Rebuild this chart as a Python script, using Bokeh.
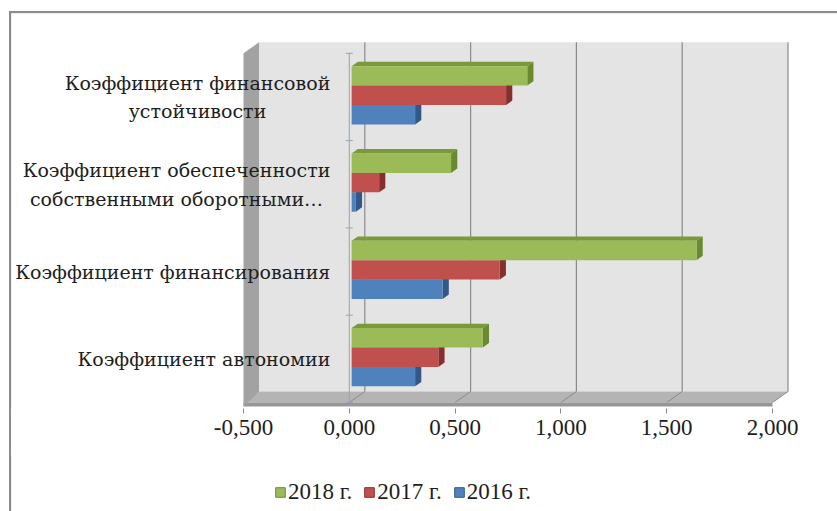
from bokeh.plotting import figure
from bokeh.layouts import column
from bokeh.models import (Range1d, FixedTicker, CustomJSTickFormatter, Legend,
                          LegendItem, BoxAnnotation, InlineStyleSheet)
from bokeh.core.properties import value
from bokeh.embed import file_html
from bokeh.resources import INLINE

# ---------------- data ----------------
categories = [
    "Коэффициент автономии",
    "Коэффициент финансирования",
    "Коэффициент обеспеченности\nсобственными оборотными…",
    "Коэффициент финансовой\nустойчивости",
]
series_names = ["2016 г.", "2017 г.", "2018 г."]
values_2016 = [0.30, 0.43, 0.02, 0.30]
values_2017 = [0.41, 0.70, 0.13, 0.73]
values_2018 = [0.62, 1.63, 0.47, 0.83]
x_ticks = [-0.5, 0.0, 0.5, 1.0, 1.5, 2.0]

series_values = [values_2016, values_2017, values_2018]
front_colors = ["#4F81BD", "#C0504D", "#9BBB59"]
top_colors = ["#3B659A", "#963A37", "#789A3B"]
side_colors = ["#325887", "#86302D", "#6A8A31"]

# ---------------- layout / style constants ----------------
W, H = 837, 511
TOP_H = 455
LEG_H = H - TOP_H
PX_PER_X = 211.6
PX_PER_Y = 87.3
X_LEFT_PX = 243          # pixel of the first tick on the front plane
Y0_PX = 402              # pixel of the floor front edge
FRAME_BOTTOM_PX = 408

x_start = x_ticks[0] - X_LEFT_PX / PX_PER_X
x_end = x_start + W / PX_PER_X
y_end = Y0_PX / PX_PER_Y
y_start = -(FRAME_BOTTOM_PX - Y0_PX) / PX_PER_Y

DX = 15.5 / PX_PER_X      # 3D depth offset (x)
DY = 11.0 / PX_PER_Y      # 3D depth offset (y)
BAR_H = 1 / 4.5
F0, F1 = 0.15, 0.55       # bar depth placement
NCAT = len(categories)
XMIN, XMAX = x_ticks[0], x_ticks[-1]
BORDER = "#8c8c8c"
TEXT = "#1e1e1e"
SERIF = "Liberation Serif"
CYR_SERIF = "DejaVu Serif"
MIXED_SERIF = "'Liberation Serif', 'DejaVu Serif'"

p = figure(width=W, height=TOP_H, x_range=Range1d(x_start, x_end),
           y_range=Range1d(y_start, y_end), output_backend="svg",
           toolbar_location=None, min_border_left=0, min_border_right=0,
           min_border_top=0, min_border_bottom=TOP_H - FRAME_BOTTOM_PX,
           y_axis_location=None, outline_line_color=None,
           background_fill_color="white", border_fill_color="white")
p.grid.visible = False

# ---------------- walls and floor ----------------
p.quad(left=[XMIN + DX], right=[XMAX + DX], bottom=[DY], top=[NCAT + DY],
       fill_color="#e4e4e4", line_color=None)
p.patch(x=[XMIN, XMAX, XMAX + DX, XMIN + DX], y=[0, 0, DY, DY],
        fill_color="#b4b4b4", line_color=None)
p.quad(left=[XMIN], right=[XMAX], bottom=[-0.045], top=[0],
       fill_color="#979797", line_color=None)
p.patch(x=[XMIN, XMIN + DX, XMIN + DX, XMIN], y=[-0.045, DY, NCAT + DY, NCAT],
        fill_color="#a2a2a2", line_color=None)

grid_ticks = [t for t in x_ticks if t > XMIN]
p.segment(x0=[t + DX for t in grid_ticks], y0=[DY] * len(grid_ticks),
          x1=[t + DX for t in grid_ticks], y1=[NCAT + DY] * len(grid_ticks),
          line_color="#8a8a8a", line_width=1.2)
p.segment(x0=grid_ticks, y0=[0] * len(grid_ticks),
          x1=[t + DX for t in grid_ticks], y1=[DY] * len(grid_ticks),
          line_color="#8a8a8a", line_width=1)

# category axis line on the front plane
p.segment(x0=[0], y0=[0], x1=[0], y1=[NCAT], line_color="#98a3b5", line_width=1)
p.scatter(x=[0] * (NCAT + 1), y=list(range(NCAT + 1)), marker="dash", size=7,
          line_color="#98a3b5")

# ---------------- 3D bars ----------------
dd = F1 - F0
for s, vals in enumerate(series_values):
    centers = [i + 0.5 + (s - 1) * BAR_H for i in range(NCAT)]
    x0 = [F0 * DX] * NCAT
    x1 = [v + F0 * DX for v in vals]
    yb = [c - BAR_H / 2 + F0 * DY for c in centers]
    yt = [c + BAR_H / 2 + F0 * DY for c in centers]
    top_xs = [[a, a + dd * DX, b + dd * DX, b] for a, b in zip(x0, x1)]
    top_ys = [[t, t + dd * DY, t + dd * DY, t] for t in yt]
    side_xs = [[b, b, b + dd * DX, b + dd * DX] for b in x1]
    side_ys = [[lo, hi, hi + dd * DY, lo + dd * DY] for lo, hi in zip(yb, yt)]
    p.patches(xs=top_xs, ys=top_ys, fill_color=top_colors[s], line_color=None)
    p.patches(xs=side_xs, ys=side_ys, fill_color=side_colors[s], line_color=None)
    p.quad(left=x0, right=x1, bottom=yb, top=yt,
           fill_color=front_colors[s], line_color=None)

# ---------------- category labels ----------------
p.text(x=[0] * NCAT, y=[i + 0.5 for i in range(NCAT)], text=categories,
       anchor="center_right", text_align="center", x_offset=-19,
       text_font=value(CYR_SERIF), text_font_size="19px", text_color=TEXT,
       text_line_height=1.3)

# ---------------- value axis ----------------
ax = p.xaxis[0]
ax.ticker = FixedTicker(ticks=x_ticks)
ax.formatter = CustomJSTickFormatter(code="return tick.toFixed(3).replace('.', ',');")
ax.axis_line_color = None
ax.major_tick_in = 0
ax.major_tick_out = 5
ax.major_tick_line_color = "#8a8a8a"
ax.minor_tick_out = 0
ax.minor_tick_in = 0
ax.major_label_standoff = 6
ax.major_label_text_font = SERIF
ax.major_label_text_font_size = "23px"
ax.major_label_text_color = TEXT

p.add_layout(BoxAnnotation(left=10, right=W + 20, top=12, bottom=TOP_H + 20,
                           left_units="canvas", right_units="canvas",
                           top_units="canvas", bottom_units="canvas",
                           fill_color=None, fill_alpha=0,
                           line_color=BORDER, line_width=2))

# ---------------- legend strip ----------------
q = figure(width=W, height=LEG_H, x_range=Range1d(0, W), y_range=Range1d(0, LEG_H),
           output_backend="svg", toolbar_location=None, min_border=0,
           x_axis_location=None, y_axis_location=None, outline_line_color=None,
           background_fill_color="white", border_fill_color="white")
q.grid.visible = False
legend_renderers = []
for s in range(3):
    # proxy glyphs, placed outside the visible range, only feed the legend
    r = q.quad(left=[-20], right=[-10], bottom=[0], top=[1],
               fill_color=front_colors[s], line_color=side_colors[s])
    legend_renderers.append(r)
items = [LegendItem(label=series_names[s], renderers=[legend_renderers[s]])
         for s in (2, 1, 0)]
legend = Legend(items=items, orientation="horizontal", location=(274, 6),
                margin=0, padding=0, spacing=11, glyph_width=12,
                glyph_height=12, label_standoff=2,
                label_text_font=MIXED_SERIF, label_text_font_size="23px",
                label_text_color=TEXT, border_line_color=None,
                background_fill_alpha=0)
q.add_layout(legend, "center")
q.add_layout(BoxAnnotation(left=10, right=W + 20, top=-20, bottom=LEG_H + 20,
                           left_units="canvas", right_units="canvas",
                           top_units="canvas", bottom_units="canvas",
                           fill_color=None, fill_alpha=0,
                           line_color=BORDER, line_width=2))

border_css = InlineStyleSheet(css="""
:host::after {
  content: "";
  position: absolute;
  left: 9px; top: 11px; right: 0; bottom: 0;
  border-left: 2px solid #8c8c8c;
  border-top: 2px solid #8c8c8c;
  pointer-events: none;
  z-index: 10;
}
""")
layout = column(p, q, spacing=0, stylesheets=[border_css])
open("out.html", "w").write(file_html(layout, INLINE))
